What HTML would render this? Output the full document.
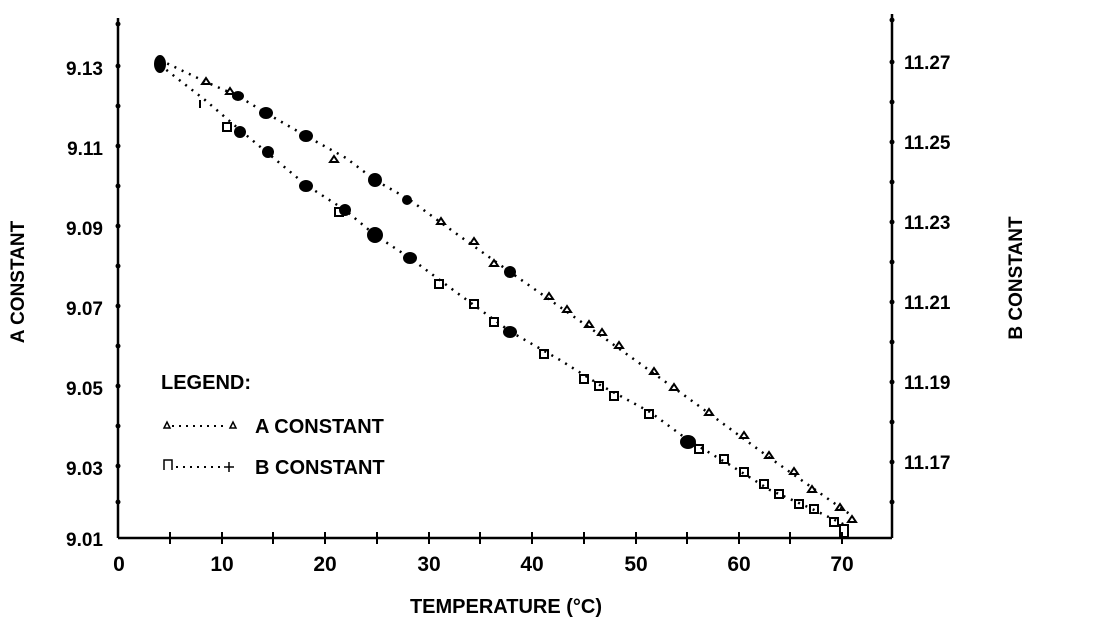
<!DOCTYPE html>
<html><head><style>
body{margin:0;background:#fff;}
svg text{font-family:"Liberation Sans",Arial,sans-serif;font-weight:bold;fill:#000;}
</style></head><body>
<svg width="1108" height="624" viewBox="0 0 1108 624">
<g stroke="#000" stroke-width="2.5" fill="none">
<line x1="118" y1="18" x2="118" y2="538"/>
<line x1="892" y1="14" x2="892" y2="538"/>
<line x1="118" y1="538" x2="892" y2="538"/>
</g>
<g fill="#000">
<circle cx="118" cy="24" r="2.5"/><circle cx="892" cy="20" r="2.5"/>
<circle cx="118" cy="66" r="2.5"/><circle cx="118" cy="106" r="2.5"/><circle cx="118" cy="146" r="2.5"/><circle cx="118" cy="186" r="2.5"/><circle cx="118" cy="226" r="2.5"/><circle cx="118" cy="266" r="2.5"/><circle cx="118" cy="306" r="2.5"/><circle cx="118" cy="346" r="2.5"/><circle cx="118" cy="386" r="2.5"/><circle cx="118" cy="426" r="2.5"/><circle cx="118" cy="466" r="2.5"/><circle cx="118" cy="502" r="2.5"/>
<circle cx="892" cy="62" r="2.5"/><circle cx="892" cy="102" r="2.5"/><circle cx="892" cy="142" r="2.5"/><circle cx="892" cy="182" r="2.5"/><circle cx="892" cy="222" r="2.5"/><circle cx="892" cy="262" r="2.5"/><circle cx="892" cy="302" r="2.5"/><circle cx="892" cy="342" r="2.5"/><circle cx="892" cy="382" r="2.5"/><circle cx="892" cy="422" r="2.5"/><circle cx="892" cy="462" r="2.5"/><circle cx="892" cy="502" r="2.5"/>
</g>
<g stroke="#000" stroke-width="2">
<line x1="170" y1="532" x2="170" y2="544"/><line x1="222" y1="532" x2="222" y2="544"/><line x1="273" y1="532" x2="273" y2="544"/><line x1="325" y1="532" x2="325" y2="544"/><line x1="377" y1="532" x2="377" y2="544"/><line x1="429" y1="532" x2="429" y2="544"/><line x1="480" y1="532" x2="480" y2="544"/><line x1="532" y1="532" x2="532" y2="544"/><line x1="584" y1="532" x2="584" y2="544"/><line x1="636" y1="532" x2="636" y2="544"/><line x1="687" y1="532" x2="687" y2="544"/><line x1="739" y1="532" x2="739" y2="544"/><line x1="790" y1="532" x2="790" y2="544"/><line x1="842" y1="532" x2="842" y2="544"/>
</g>
<g stroke="#000" stroke-width="2.5" stroke-dasharray="2,6" fill="none">
<polyline points="160,60 206,82 238,96 266,113 306,136 346,158 375,180 410,200 440,222 510,272 600,335 688,398 770,458 851,515"/>
<polyline points="160,65 205,100 240,130 306,185 345,210 375,235 410,258 460,295 511,332 560,360 600,385 650,412 688,440 730,465 770,490 810,508 845,525"/>
</g>
<g fill="none" stroke="#000" stroke-width="2">
<path d="M202,84 l4,-6 l4,6z M226,94 l4,-6 l4,6z M330,162 l4,-6 l4,6z M437,224 l4,-6 l4,6z M470,244 l4,-6 l4,6z M490,266 l4,-6 l4,6z M545,299 l4,-6 l4,6z M563,312 l4,-6 l4,6z M585,327 l4,-6 l4,6z M598,335 l4,-6 l4,6z M615,348 l4,-6 l4,6z M650,374 l4,-6 l4,6z M670,390 l4,-6 l4,6z M705,415 l4,-6 l4,6z M740,438 l4,-6 l4,6z M765,458 l4,-6 l4,6z M790,474 l4,-6 l4,6z M808,492 l4,-6 l4,6z M836,510 l4,-6 l4,6z M848,522 l4,-6 l4,6z"/>
<path d="M200,100 v8 M223,123 h8 v8 h-8z M335,208 h8 v8 h-8z M435,280 h8 v8 h-8z M470,300 h8 v8 h-8z M490,318 h8 v8 h-8z M540,350 h8 v8 h-8z M580,375 h8 v8 h-8z M595,382 h8 v8 h-8z M610,392 h8 v8 h-8z M645,410 h8 v8 h-8z M695,445 h8 v8 h-8z M720,455 h8 v8 h-8z M740,468 h8 v8 h-8z M760,480 h8 v8 h-8z M775,490 h8 v8 h-8z M795,500 h8 v8 h-8z M810,505 h8 v8 h-8z M830,518 h8 v8 h-8z M840,525 h8 v12 h-8z"/>
</g>
<g fill="#000">
<ellipse cx="160" cy="64" rx="6" ry="9"/>
<ellipse cx="238" cy="96" rx="6" ry="5"/><ellipse cx="266" cy="113" rx="7" ry="6"/><ellipse cx="306" cy="136" rx="7" ry="6"/><ellipse cx="375" cy="180" rx="7" ry="7"/><ellipse cx="407" cy="200" rx="5" ry="5"/><ellipse cx="510" cy="272" rx="6" ry="6"/>
<ellipse cx="240" cy="132" rx="6" ry="6"/><ellipse cx="268" cy="152" rx="6" ry="6"/><ellipse cx="306" cy="186" rx="7" ry="6"/><ellipse cx="345" cy="210" rx="6" ry="6"/><ellipse cx="375" cy="235" rx="8" ry="8"/><ellipse cx="410" cy="258" rx="7" ry="6"/><ellipse cx="510" cy="332" rx="7" ry="6"/><ellipse cx="688" cy="442" rx="8" ry="7"/>
</g>
<g font-size="19" text-anchor="end">
<text x="103" y="75">9.13</text><text x="103" y="155">9.11</text><text x="103" y="235">9.09</text><text x="103" y="315">9.07</text><text x="103" y="395">9.05</text><text x="103" y="475">9.03</text><text x="103" y="546">9.01</text>
</g>
<g font-size="19">
<text x="904" y="69">11.27</text><text x="904" y="149">11.25</text><text x="904" y="229">11.23</text><text x="904" y="309">11.21</text><text x="904" y="389">11.19</text><text x="904" y="469">11.17</text>
</g>
<g font-size="21" text-anchor="middle">
<text x="119" y="571">0</text><text x="222" y="571">10</text><text x="325" y="571">20</text><text x="429" y="571">30</text><text x="532" y="571">40</text><text x="636" y="571">50</text><text x="739" y="571">60</text><text x="842" y="571">70</text>
</g>
<text x="506" y="613" font-size="20" text-anchor="middle">TEMPERATURE (°C)</text>
<text transform="translate(24,282) rotate(-90)" font-size="19" text-anchor="middle">A CONSTANT</text>
<text transform="translate(1022,278) rotate(-90)" font-size="19" text-anchor="middle">B CONSTANT</text>
<text x="161" y="389" font-size="20">LEGEND:</text>
<path d="M164,428 l3,-6 l3,6z M230,428 l3,-6 l3,6z" fill="none" stroke="#000" stroke-width="1.5"/>
<line x1="172" y1="426" x2="228" y2="426" stroke="#000" stroke-width="2" stroke-dasharray="2,5"/>
<text x="255" y="433" font-size="20">A CONSTANT</text>
<path d="M164,470 v-10 h8 v10" fill="none" stroke="#000" stroke-width="1.5"/>
<line x1="176" y1="467" x2="222" y2="467" stroke="#000" stroke-width="2" stroke-dasharray="2,5"/>
<path d="M224,467 h10 M229,462 v10" stroke="#000" stroke-width="1.5"/>
<text x="255" y="474" font-size="20">B CONSTANT</text>
</svg>
</body></html>
